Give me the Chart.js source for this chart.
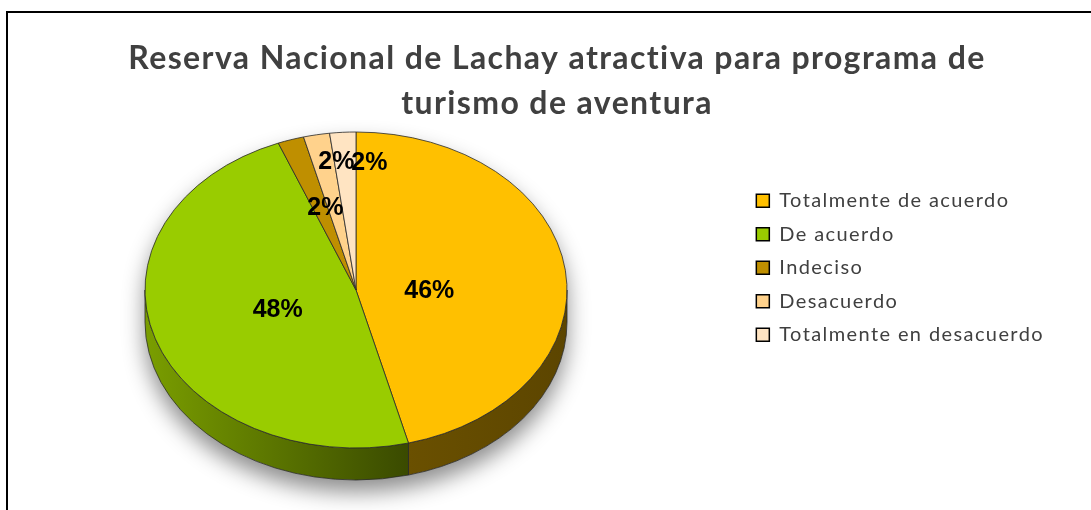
<!DOCTYPE html>
<html>
<head>
<meta charset="utf-8">
<script src="https://cdn.jsdelivr.net/npm/chart.js@4.4.0/dist/chart.umd.min.js"></script>
<style>
  html, body { margin: 0; padding: 0; background: #fff; }
  #wrap { position: relative; width: 1091px; height: 510px; }
</style>
</head>
<body>
<div id="wrap"><canvas id="pie" width="1091" height="510"></canvas></div>
<script>
const titleLines = ['Reserva Nacional de Lachay atractiva para programa de', 'turismo de aventura'];
const categories = ['Totalmente de acuerdo', 'De acuerdo', 'Indeciso', 'Desacuerdo', 'Totalmente en desacuerdo'];
const percentages = [46, 48, 2, 2, 2];

const topColors = ['#FFC000', '#99CC00', '#BF8F00', '#FFD28C', '#FFE4C2'];
const sideColors = [['#6a5000', '#5c4500'], ['#7a9e00', '#3a4a00'], ['#5f4700', '#5f4700'], ['#806945', '#806945'], ['#807260', '#807260']];

// fake 3d: the library lays out the pie, this plugin squashes it and adds the rim
const pie3d = {
  id: 'pie3d',
  beforeUpdate(chart) {
    // Calibri is not installed, Lato is narrower -> open the text up a bit
    chart.ctx.letterSpacing = '1.4px';
  },
  beforeDraw(chart) {
    const ctx = chart.ctx;
    ctx.letterSpacing = '1.4px';
    ctx.save();
    ctx.strokeStyle = '#000';
    ctx.lineWidth = 2;
    ctx.strokeRect(7, 12, 1300, 700);
    ctx.restore();
  },
  beforeDatasetsDraw(chart, args, opts) {
    const ctx = chart.ctx;
    const arcs = chart.getDatasetMeta(0).data;
    const { cx, cy, rx, ry, depth } = opts;

    // shadow under the whole disc
    ctx.save();
    ctx.beginPath();
    ctx.ellipse(cx, cy, rx, ry, 0, Math.PI, 2 * Math.PI);
    ctx.ellipse(cx, cy + depth, rx, ry, 0, 0, Math.PI);
    ctx.closePath();
    ctx.shadowColor = 'rgba(0,0,0,0.45)';
    ctx.shadowBlur = 22;
    ctx.shadowOffsetY = 12;
    ctx.fillStyle = '#fff';
    ctx.fill();
    ctx.restore();

    // front rim of every slice
    arcs.forEach((arc, i) => {
      const a = Math.max(arc.startAngle, 0);
      const b = Math.min(arc.endAngle, Math.PI);
      if (b <= a) return;
      const x1 = cx + rx * Math.cos(a), x2 = cx + rx * Math.cos(b);
      const g = ctx.createLinearGradient(Math.min(x1, x2), 0, Math.max(x1, x2), 0);
      g.addColorStop(0, sideColors[i][0]);
      g.addColorStop(1, sideColors[i][1]);
      ctx.save();
      ctx.beginPath();
      ctx.ellipse(cx, cy, rx, ry, 0, a, b, false);
      ctx.lineTo(cx + rx * Math.cos(b), cy + depth + ry * Math.sin(b));
      ctx.ellipse(cx, cy + depth, rx, ry, 0, b, a, true);
      ctx.closePath();
      ctx.fillStyle = g;
      ctx.fill();
      ctx.strokeStyle = '#2a2a2a';
      ctx.lineWidth = 0.8;
      ctx.stroke();
      ctx.restore();
    });

    // top face drawn by chart.js, through a squash transform
    const a0 = arcs[0];
    const R = a0.outerRadius;
    ctx.save();
    ctx.translate(cx, cy);
    ctx.scale(rx / R, ry / R);
    ctx.translate(-a0.x, -a0.y);
  },
  afterDatasetsDraw(chart, args, opts) {
    const ctx = chart.ctx;
    ctx.restore();
    const arcs = chart.getDatasetMeta(0).data;
    const { cx, cy, rx, ry } = opts;
    ctx.save();
    ctx.letterSpacing = '0px';
    ctx.font = 'bold 25px "Liberation Sans", Arial, sans-serif';
    ctx.fillStyle = '#000';
    ctx.textAlign = 'center';
    ctx.textBaseline = 'middle';
    arcs.forEach((arc, i) => {
      const mid = (arc.startAngle + arc.endAngle) / 2;
      const f = opts.labelRadius[i];
      const s = opts.labelShift[i];
      const x = cx + f * rx * Math.cos(mid) + s[0];
      const y = cy + f * ry * Math.sin(mid) + s[1];
      ctx.fillText(percentages[i] + '%', x, y);
    });
    ctx.restore();
  }
};

new Chart(document.getElementById('pie'), {
  type: 'pie',
  data: {
    labels: categories,
    datasets: [{
      data: percentages,
      backgroundColor: topColors,
      borderColor: '#2a2a2a',
      borderWidth: 0.6,
      clip: false
    }]
  },
  plugins: [pie3d],
  options: {
    responsive: false,
    animation: false,
    devicePixelRatio: 1,
    layout: { padding: { top: 0, left: 60, right: 37, bottom: 105 } },
    plugins: {
      pie3d: {
        cx: 356, cy: 290, rx: 211, ry: 158, depth: 32,
        labelRadius: [0.35, 0.39, 0.5, 0.8, 0.8],
        labelShift: [[0, 8], [0, 1], [2, -7], [12, -4], [24, -1]]
      },
      title: {
        display: true,
        text: titleLines,
        color: '#404040',
        font: { family: 'Lato', size: 32, weight: 'bold', lineHeight: 1.4 },
        padding: { top: 36, bottom: 5 }
      },
      legend: {
        position: 'right',
        align: 'center',
        fullSize: false,
        labels: {
          boxWidth: 13,
          boxHeight: 13,
          padding: 13.5,
          color: '#404040',
          font: { family: 'Lato', size: 20 },
          generateLabels(chart) {
            const items = Chart.overrides.pie.plugins.legend.labels.generateLabels(chart);
            return items.map(it => Object.assign(it, { strokeStyle: '#000', lineWidth: 1.5 }));
          }
        }
      },
      tooltip: { enabled: false }
    }
  }
});
</script>
</body>
</html>
